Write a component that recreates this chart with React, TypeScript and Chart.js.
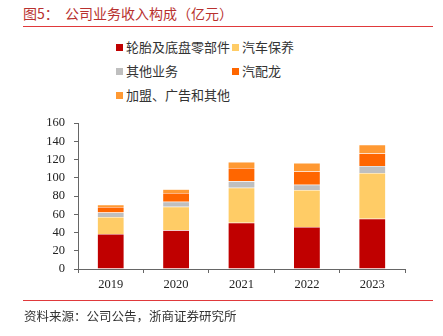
import React, { useEffect, useRef } from "react";
import { Chart, registerables } from "chart.js";

Chart.register(...registerables);

const categories = ["2019", "2020", "2021", "2022", "2023"];
const seriesNames = ["轮胎及底盘零部件", "汽车保养", "其他业务", "汽配龙", "加盟、广告和其他"];
const tireParts = [38.4, 42.4, 50.7, 46.0, 55.1];
const maintenance = [18.6, 25.9, 38.4, 40.6, 50.1];
const otherBiz = [5.0, 5.5, 7.0, 5.8, 7.7];
const qipeilong = [6.0, 9.5, 14.6, 14.7, 13.9];
const franchise = [2.5, 4.0, 6.6, 9.1, 9.4];
const seriesColors = ["#C00000", "#FFCC66", "#BFBFBF", "#FF6600", "#FF9933"];
const yTicks = [0, 20, 40, 60, 80, 100, 120, 140, 160];

const titleText = "图5：  公司业务收入构成（亿元）";
const sourceText = "资料来源：公司公告，浙商证券研究所";

const cjk = '"Noto Sans CJK SC", "Noto Sans", sans-serif';

export default function App() {
  const ref = useRef<HTMLCanvasElement | null>(null);

  useEffect(() => {
    if (!ref.current) return;
    const values = [tireParts, maintenance, otherBiz, qipeilong, franchise];
    const chart = new Chart(ref.current, {
      type: "bar",
      data: {
        labels: categories,
        datasets: seriesNames.map((name, i) => ({
          label: name,
          data: values[i],
          backgroundColor: seriesColors[i],
          borderColor: "rgba(255,255,255,0.5)",
          borderWidth: 0.5,
          categoryPercentage: 1,
          barPercentage: 0.41,
        })),
      },
      options: {
        animation: false,
        responsive: false,
        maintainAspectRatio: false,
        layout: { padding: { top: 123, right: 38, left: 0, bottom: 0 } },
        plugins: { legend: { display: false }, tooltip: { enabled: false } },
        scales: {
          x: {
            stacked: true,
            afterFit: (s: any) => {
              s.height = 67;
            },
            border: { color: "#666", width: 1 },
            grid: { drawOnChartArea: false, drawTicks: true, tickLength: 4, tickColor: "#666", offset: true },
            ticks: { color: "#222", padding: 4, font: { family: '"Liberation Serif", serif', size: 12.5 } },
          },
          y: {
            stacked: true,
            min: 0,
            max: 160,
            afterFit: (s: any) => {
              s.width = 78;
            },
            afterBuildTicks: (s: any) => {
              s.ticks = yTicks.map((v) => ({ value: v }));
            },
            border: { color: "#666", width: 1 },
            grid: { drawOnChartArea: false, drawTicks: true, tickLength: 4, tickColor: "#666" },
            ticks: { color: "#222", padding: 9, font: { family: '"Liberation Serif", serif', size: 12.5 } },
          },
        },
      },
    });
    return () => chart.destroy();
  }, []);

  const legendPos = [
    { x: 116, y: 47 },
    { x: 232, y: 47 },
    { x: 116, y: 71 },
    { x: 232, y: 71 },
    { x: 116, y: 95 },
  ];

  return (
    <div style={{ position: "absolute", left: 0, top: 0, width: 443, height: 336, background: "#fff", overflow: "hidden" }}>
      <div style={{ position: "absolute", left: 23, top: 4, fontFamily: cjk, fontSize: 14, color: "#B8312F", whiteSpace: "pre", lineHeight: "18px" }}>
        {titleText}
      </div>
      <div style={{ position: "absolute", left: 23, top: 26, width: 410, height: 1, background: "#E0393B" }} />
      {seriesNames.map((name, i) => (
        <div key={name} style={{ position: "absolute", left: legendPos[i].x, top: legendPos[i].y - 9, height: 18, display: "flex", alignItems: "center", whiteSpace: "nowrap" }}>
          <span style={{ display: "inline-block", width: 7, height: 7, background: seriesColors[i], marginRight: 3 }} />
          <span style={{ fontFamily: cjk, fontSize: 13, color: "#333", lineHeight: "18px" }}>{name}</span>
        </div>
      ))}
      <canvas ref={ref} width={443} height={336} style={{ position: "absolute", left: 0, top: 0, width: 443, height: 336 }} />
      <div style={{ position: "absolute", left: 23, top: 300, width: 410, height: 1, background: "#E0393B" }} />
      <div style={{ position: "absolute", left: 24, top: 307, fontFamily: cjk, fontSize: 12.5, color: "#333", whiteSpace: "nowrap", lineHeight: "18px" }}>
        {sourceText}
      </div>
    </div>
  );
}
